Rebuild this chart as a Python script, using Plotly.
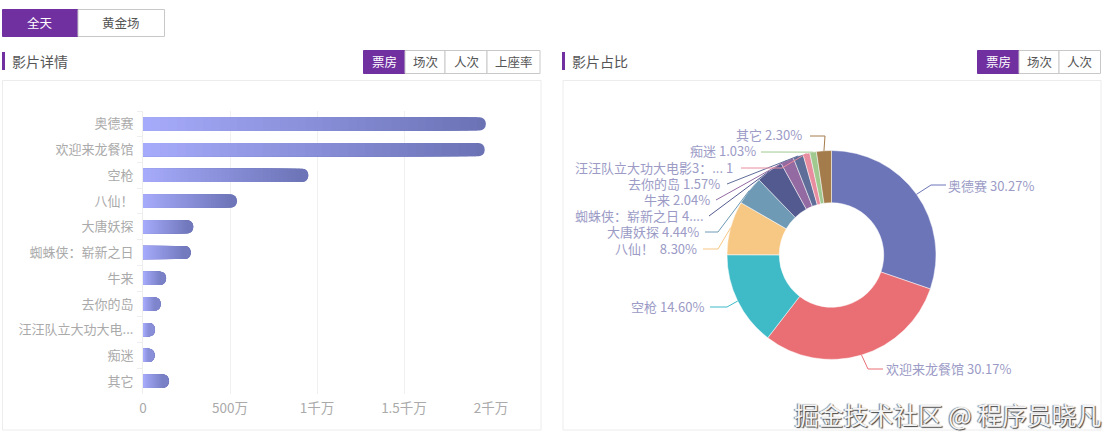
import math
import plotly.graph_objects as go

W, H = 1118, 445
FONT = "Noto Sans CJK SC"

# ---- data ----
movies = ["奥德赛", "欢迎来龙餐馆", "空枪", "八仙！", "大唐妖探", "蜘蛛侠：崭新之日", "牛来", "去你的岛", "汪汪队立大功大电...", "痴迷", "其它"]
box_office = [19700000, 19635000, 9500000, 5400000, 2890000, 2750000, 1330000, 1020000, 690000, 670000, 1500000]
x_tick_vals = [0, 5000000, 10000000, 15000000, 20000000]
x_tick_text = ["0", "500万", "1千万", "1.5千万", "2千万"]
share_labels = ["奥德赛 30.27%", "欢迎来龙餐馆 30.17%", "空枪 14.60%", "八仙！  8.30%", "大唐妖探 4.44%", "蜘蛛侠：崭新之日 4....",
                "牛来 2.04%", "去你的岛 1.57%", "汪汪队立大功大电影3：... 1", "痴迷 1.03%", "其它 2.30%"]
share_values = [30.27, 30.17, 14.60, 8.30, 4.44, 4.22, 2.04, 1.57, 1.06, 1.03, 2.30]
share_colors = ["#6c75b8", "#e96f75", "#3fbac7", "#f7c784", "#6e9ab5", "#525a8f", "#936aa2", "#5f6d99", "#e88c9f", "#a0c990", "#a47b4a"]

PURPLE = "#7030a0"
px = lambda x: x / W
py = lambda y: 1 - y / H

fig = go.Figure()

# gradient horizontal bars: overlaid layers, longest (dark end) first
STEPS = 40
c0, c1 = (166, 170, 250), (107, 115, 181)
for i in range(STEPS):
    t = 1 - i / (STEPS - 1)
    frac = (STEPS - i) / STEPS
    col = "rgb(%d,%d,%d)" % tuple(round(a + (b - a) * t) for a, b in zip(c0, c1))
    fig.add_trace(go.Bar(y=movies, x=[v * frac for v in box_office], orientation="h",
                         marker=dict(color=col, line=dict(width=0)), hoverinfo="skip", showlegend=False))

# donut
CX, CY, R = 831.5, 255, 104.5
fig.add_trace(go.Pie(labels=share_labels, values=share_values, sort=False, direction="clockwise", rotation=0,
                     hole=0.5, textinfo="none", hoverinfo="skip", showlegend=False,
                     marker=dict(colors=share_colors, line=dict(color="#ffffff", width=0.5)),
                     domain=dict(x=[px(CX - R), px(CX + R)], y=[py(CY + R), py(CY - R)])))

shapes, annots = [], []

def rect(x0, y0, x1, y1, fill="rgba(0,0,0,0)", line="#c8c8c8", lw=1, layer="below"):
    shapes.append(dict(type="rect", xref="x2", yref="y2", x0=x0, x1=x1, y0=y0, y1=y1,
                       fillcolor=fill, line=dict(color=line, width=lw), layer=layer))

def text(x, y, s, size=13, color="#555555", anchor="left", **kw):
    annots.append(dict(xref="x2", yref="y2", x=x, y=y, text=s, showarrow=False, xanchor=anchor,
                       yanchor="middle", font=dict(family=FONT, size=size, color=color, **kw)))

def tabs(edges, y0, y1, names, size=12.5):
    for i, n in enumerate(names):
        on = i == 0
        rect(edges[i], y0, edges[i + 1], y1, fill=PURPLE if on else "#ffffff", line=PURPLE if on else "#c8c8c8")
        text((edges[i] + edges[i + 1]) / 2, (y0 + y1) / 2 - 0.5, n, size=size, color="#ffffff" if on else "#555555", anchor="center")

# cards
rect(2.5, 80.5, 541, 430, line="#ececec")
rect(563, 80.5, 1101, 430, line="#ececec")

# top-level switch + section headers
tabs([2.5, 78, 164.5], 9.5, 36.5, ["全天", "黄金场"])
tabs([363.5, 405, 445, 487, 540], 50.5, 73.5, ["票房", "场次", "人次", "上座率"])
tabs([977.5, 1019, 1059, 1100.5], 50.5, 73.5, ["票房", "场次", "人次"])
rect(2, 52, 5, 70, fill=PURPLE, line=PURPLE, lw=0)
rect(562, 52, 565, 70, fill=PURPLE, line=PURPLE, lw=0)
text(10, 60.5, "影片详情", size=14)
text(570, 60.5, "影片占比", size=14)

# pie leaders: start on the slice mid-angle, then layout points, text end
leader_layout = [
    [(931, 185), (946, 185)],
    [(868, 369), (883, 369)],
    [(727, 307), (710, 307)],
    [(718, 249), (703, 249)],
    [(718, 232), (705, 232)],
    [(709, 216)],
    [(716, 200)],
    [(727, 184)],
    [(782, 168), (741, 168)],
    [(761, 152)],
    [(825, 136), (810, 136)],
]
label_pos = [(946, 185, "left"), (884, 368, "left"), (706, 306, "right"), (699, 248, "right"), (701, 231, "right"),
             (706, 215, "right"), (712, 199, "right"), (722, 183, "right"), (735, 167, "right"), (758, 150, "right"), (804, 134, "right")]
total = sum(share_values)
acc = 0
for val, col, pts, lab, pos in zip(share_values, share_colors, leader_layout, share_labels, label_pos):
    a = 2 * math.pi * (acc + val / 2) / total
    acc += val
    sx, sy = CX + R * math.sin(a), CY - R * math.cos(a)
    path = "M%.2f,%.2f" % (sx, sy) + "".join(" L%.2f,%.2f" % p for p in pts)
    shapes.append(dict(type="path", xref="x2", yref="y2", path=path, line=dict(color=col, width=1), layer="above"))
    text(pos[0], pos[1], lab, size=13, color="#9b9bc6", anchor=pos[2])

# watermark
text(1103, 414, "掘金技术社区 @ 程序员晓凡", size=24.8, color="#f4f4f4", anchor="right", shadow="1px 1px 1px #444, -1px 0 1px #777")

fig.update_layout(
    width=W, height=H, margin=dict(l=0, r=0, t=0, b=0, autoexpand=False), paper_bgcolor="#ffffff", plot_bgcolor="rgba(0,0,0,0)",
    barmode="overlay", bargap=0.49, barcornerradius=7, shapes=shapes, annotations=annots,
    xaxis=dict(domain=[px(143), px(491)], range=[0, 20000000], tickmode="array", tickvals=x_tick_vals, ticktext=x_tick_text,
               showgrid=True, gridcolor="#f0f0f0", gridwidth=1, zeroline=False, showline=False, ticks="outside", ticklen=2,
               tickcolor="rgba(0,0,0,0)", tickfont=dict(family=FONT, size=13.5, color="#aaaaaa"), anchor="y"),
    yaxis=dict(domain=[py(394), py(111)], autorange="reversed", type="category", tickson="boundaries", ticks="outside",
               ticklen=5, tickcolor="#eeeeee", showline=True, linecolor="#eeeeee", showgrid=False, zeroline=False,
               ticklabelstandoff=6, tickfont=dict(family=FONT, size=13, color="#aaaaaa"), anchor="x"),
    xaxis2=dict(domain=[0, 1], range=[0, W], visible=False, anchor="y2", fixedrange=True),
    yaxis2=dict(domain=[0, 1], range=[H, 0], visible=False, anchor="x2", fixedrange=True),
)
fig.write_html("out.html", post_script="document.body.style.margin='0';document.body.style.overflow='hidden';",
               config=dict(displayModeBar=False))
